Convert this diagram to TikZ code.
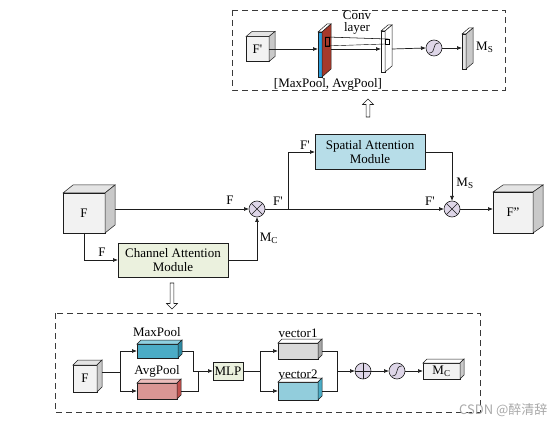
\documentclass[tikz,border=0pt]{standalone}
\usepackage{fontspec}
\setmainfont{Liberation Serif}
\newfontfamily\cjkfont{Noto Sans CJK SC}
\usepackage{xcolor}
\usetikzlibrary{arrows.meta,positioning,calc,shapes.arrows}
\definecolor{ink}{HTML}{1D1D1D}
\definecolor{dashc}{HTML}{3A3A3A}
\definecolor{cubefront}{HTML}{F2F2F2}
\definecolor{cubeside}{HTML}{C9C9C9}
\definecolor{cubetop}{HTML}{E4E4E4}
\definecolor{spatial}{HTML}{B7DDE8}
\definecolor{channel}{HTML}{EBF1DE}
\definecolor{circ}{HTML}{DED6E8}
\definecolor{maxp}{HTML}{4BACC6}
\definecolor{maxside}{HTML}{2E8AA3}
\definecolor{maxtop}{HTML}{8FD0E0}
\definecolor{avgp}{HTML}{DA9694}
\definecolor{avgside}{HTML}{C0504D}
\definecolor{avgtop}{HTML}{EBBDBB}
\definecolor{vecone}{HTML}{D9D9D9}
\definecolor{veconeside}{HTML}{A6A6A6}
\definecolor{vectwo}{HTML}{92CDDC}
\definecolor{vectwoside}{HTML}{4BACC6}
\definecolor{convblue}{HTML}{2E9FDC}
\definecolor{convred}{HTML}{A6392B}
\definecolor{mark}{HTML}{A8A8A8}
\newcommand{\fprime}{F\textquotesingle}
% top and right faces of a box drawn on a front-face node
\newcommand{\cubefaces}[5]{%
  \draw[facestroke,fill=#5] (#1.north west) -- ++(#2,-#3) -- ($(#1.north east)+(#2,-#3)$) -- (#1.north east) -- cycle;
  \draw[facestroke,fill=#4] (#1.north east) -- ++(#2,-#3) -- ($(#1.south east)+(#2,-#3)$) -- (#1.south east) -- cycle;
}
\tikzset{
  line/.style={draw=ink, line width=0.7pt},
  arrow/.style={line, -{Latex[length=5pt,width=4pt]}},
  facestroke/.style={draw=ink, line width=0.5pt},
  lbl/.style={font=\fontsize{13}{14}\selectfont, inner sep=1pt},
  cube/.style={draw=ink, line width=0.5pt, fill=cubefront, inner sep=0pt, outer sep=0pt,
               font=\fontsize{13}{14}\selectfont},
  module/.style={draw=ink, line width=0.6pt, align=center, inner sep=0pt, outer sep=0pt,
                 minimum width=110, minimum height=35, font=\fontsize{13}{14}\selectfont},
  dashbox/.style={draw=dashc, line width=0.8pt, dash pattern=on 6pt off 4pt},
  hollow/.style={single arrow, draw=ink, fill=white, line width=0.6pt, minimum width=11,
                 single arrow head extend=3.5pt, inner sep=1.6pt, outer sep=0pt},
  opnode/.style={circle, draw=ink, fill=circ, minimum size=16, inner sep=0pt, outer sep=0pt,
                 line width=0.6pt},
  mult/.style={opnode, path picture={\draw[line width=0.6pt]
      (path picture bounding box.north west) -- (path picture bounding box.south east)
      (path picture bounding box.north east) -- (path picture bounding box.south west);}},
  plus/.style={opnode, path picture={\draw[line width=0.6pt]
      (path picture bounding box.north) -- (path picture bounding box.south)
      (path picture bounding box.west) -- (path picture bounding box.east);}},
  sigm/.style={opnode, path picture={\draw[line width=0.6pt, shift={(path picture bounding box.center)}]
      (-5,5) .. controls (3,5) and (-3,-5) .. (5,-5);}}
}

\begin{document}
\begin{tikzpicture}[x=1pt,y=-1pt,>=Latex]
  \useasboundingbox (0,0) rectangle (554,430);

  % spatial attention detail
  \draw[dashbox] (232,10) rectangle (505,90);
  \node[cube, minimum width=23, minimum height=25] (Fp) at (257.5,49) {\fprime};
  \cubefaces{Fp}{6}{5}{cubeside}{cubetop}
  \node[draw=ink, line width=0.5pt, fill=convblue, minimum width=4, minimum height=45,
        inner sep=0pt, outer sep=0pt] (conv) at (320,54.5) {};
  \cubefaces{conv}{9}{8}{convred}{white}
  \node[draw=ink, line width=0.5pt, fill=white, minimum width=4, minimum height=41,
        inner sep=0pt, outer sep=0pt] (slab) at (383,51.5) {};
  \cubefaces{slab}{7}{6}{white}{white}
  \draw[line width=0.4pt] (325,37) rectangle (329,46) (385,39) rectangle (389,44);
  \draw[line width=0.4pt] (325,37) -- (385,39) (329,37) -- (389,39) (325,46) -- (385,44);
  \node[sigm] (sigA) at (434,48) {};
  \node[draw=ink, line width=0.5pt, fill=cubetop, minimum width=4, minimum height=35,
        inner sep=0pt, outer sep=0pt] (Ms) at (464,51.5) {};
  \cubefaces{Ms}{7}{6}{cubeside}{white}
  \draw[arrow] (Fp.east) -- (Fp.east -| conv.west);
  \draw[arrow] ($(Fp.east -| conv.east)+(9,0)$) -- (Fp.east -| slab.west);
  \draw[arrow] ($(Fp.east -| slab.east)+(7,0)$) -- (sigA.west);
  \draw[arrow] (sigA.east) -- (sigA.east -| Ms.west);
  \node[lbl] (convlbl) at (357,15) {Conv};
  \node[lbl] (layerlbl) at (357,28) {layer};
  \node[lbl] (poollbl) at (328,84) {[MaxPool, AvgPool]};
  \node[lbl, anchor=west] (Mslbl) at (475,47) {M\textsubscript{S}};
  \node[hollow, minimum height=18, rotate=90] (upArr) at (368,109) {};

  % main flow
  \node[cube, minimum width=42, minimum height=40] (F) at (84,213) {F};
  \cubefaces{F}{10}{8}{cubeside}{cubetop}
  \node[cube, minimum width=40, minimum height=41] (Fpp) at (513,212.5) {F"};
  \cubefaces{Fpp}{10}{7}{cubeside}{cubetop}
  \node[mult] (otA) at (257,209) {};
  \node[mult] (otB) at (452,209) {};
  \node[module, fill=spatial] (sam) at (370,152) {Spatial Attention\\Module};
  \node[module, fill=channel, minimum height=34] (cam) at (173,260) {Channel Attention\\Module};
  \coordinate (split) at (288,209);
  \draw[arrow] ($(F.east)+(10,-4)$) -- (otA.west);
  \draw[arrow] (otA.east) -- (otB.west);
  \draw[arrow] (split) |- (sam.west);
  \draw[arrow] (sam.east) -| (otB.north);
  \draw[arrow] (otB.east) -- (otB.east -| Fpp.west);
  \draw[arrow] (F.south) |- (cam.west);
  \draw[arrow] (cam.east) -| (otA.south);
  \node[lbl] (lF) at (230,200) {F};
  \node[lbl] (lFa) at (278,201) {\fprime};
  \node[lbl] (lFb) at (305,145) {\fprime};
  \node[lbl] (lFc) at (430,201) {\fprime};
  \node[lbl] (lMs) at (465,183) {M\textsubscript{S}};
  \node[lbl] (lFd) at (102,252) {F};
  \node[lbl] (lMc) at (269,238) {M\textsubscript{C}};
  \node[hollow, minimum height=26, rotate=-90] (downArr) at (172,295) {};

  % channel attention detail
  \draw[dashbox] (55,313) rectangle (480,412);
  \node[cube, minimum width=24, minimum height=27] (Fb) at (85,378.5) {F};
  \cubefaces{Fb}{5}{5}{cubeside}{cubetop}
  \node[cube, fill=maxp, minimum width=41, minimum height=14] (maxp) at (157.5,351) {};
  \cubefaces{maxp}{4}{4}{maxside}{maxtop}
  \node[cube, fill=avgp, minimum width=40, minimum height=16] (avgp) at (157,391) {};
  \cubefaces{avgp}{4}{4}{avgside}{avgtop}
  \node[cube, fill=channel, minimum width=30, minimum height=18] (mlp) at (228,371) {MLP};
  \node[cube, fill=vecone, minimum width=40, minimum height=16] (vecA) at (298,351) {};
  \cubefaces{vecA}{4}{4}{veconeside}{white}
  \node[cube, fill=vectwo, minimum width=40, minimum height=18] (vecB) at (298,391) {};
  \cubefaces{vecB}{4}{4}{vectwoside}{white}
  \node[plus] (opl) at (363,371) {};
  \node[sigm] (sigB) at (397,371) {};
  \node[cube, minimum width=37, minimum height=16] (Mc) at (441.5,371) {M\textsubscript{C}};
  \cubefaces{Mc}{4}{4}{cubeside}{white}
  \coordinate (bsplit) at (120,372);
  \coordinate (msplit) at (260,371);
  \draw[line] ($(Fb.east)+(5,-6.5)$) -- (bsplit);
  \draw[arrow] (bsplit) |- (maxp.west);
  \draw[arrow] (bsplit) |- (avgp.west);
  \draw[arrow] ($(maxp.east)+(4,0)$) -| ($(mlp.west)+(-20,0)$) -- (mlp.west);
  \draw[line] ($(avgp.east)+(4,0)$) -| ($(mlp.west)+(-15,0)$);
  \draw[line] (mlp.east) -- (msplit);
  \draw[arrow] (msplit) |- (vecA.west);
  \draw[arrow] (msplit) |- (vecB.west);
  \draw[line] ($(vecA.east)+(4,0)$) -| ($(opl.west)+(-18,0)$);
  \draw[arrow] ($(vecB.east)+(4,0)$) -| ($(opl.west)+(-18,0)$) -- (opl.west);
  \draw[arrow] (opl.east) -- (sigB.west);
  \draw[arrow] (sigB.east) -- (Mc.west);
  \node[lbl] (lmax) at (157,332) {MaxPool};
  \node[lbl] (lavg) at (157,371) {AvgPool};
  \node[lbl] (lv1) at (298,333) {vector1};
  \node[lbl] (lv2) at (298,374) {vector2};

  \node[text=mark, font=\cjkfont\fontsize{13}{14}\selectfont, anchor=east] (wm) at (551,410) {CSDN @醉清辞};
\end{tikzpicture}
\end{document}
